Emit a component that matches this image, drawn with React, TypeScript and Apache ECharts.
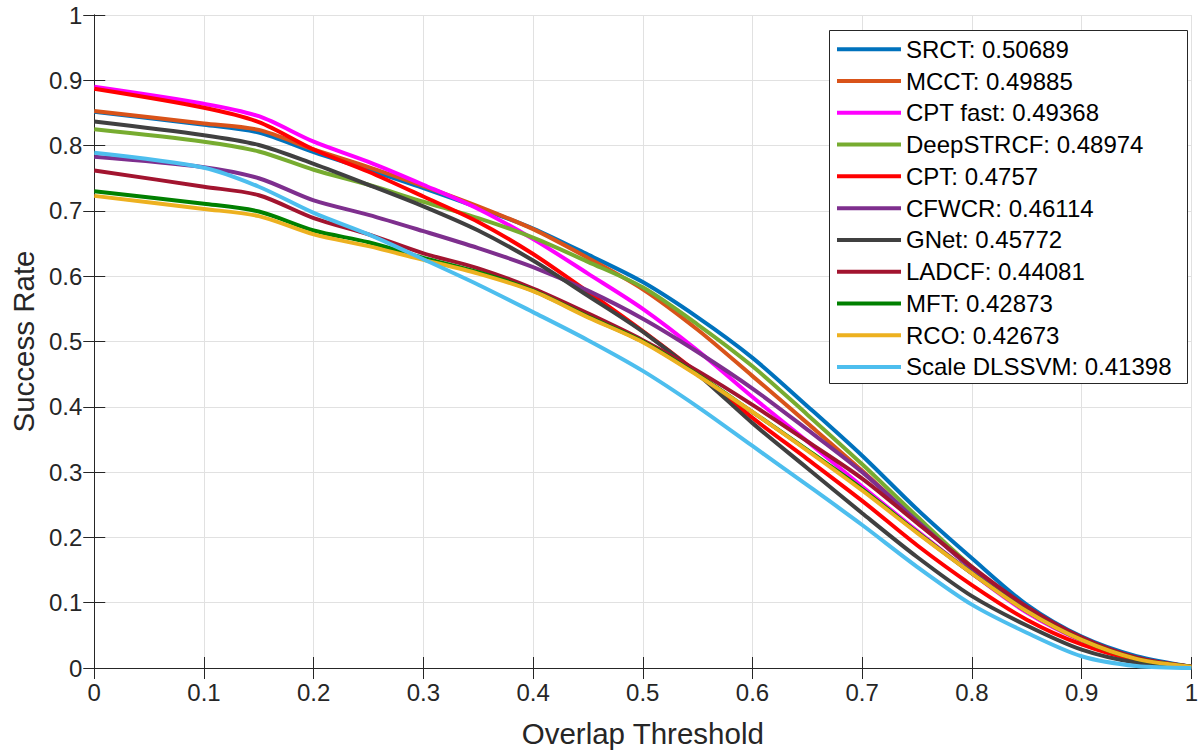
import React, { useEffect, useRef } from "react";
import * as echarts from "echarts";

const thresholds = [0, 0.1, 0.15, 0.2, 0.25, 0.3, 0.35, 0.4, 0.45, 0.5, 0.55, 0.6, 0.65, 0.7, 0.75, 0.8, 0.85, 0.9, 0.95, 1];

const srct = [0.852, 0.832, 0.820, 0.790, 0.763, 0.735, 0.705, 0.673, 0.633, 0.591, 0.537, 0.475, 0.401, 0.325, 0.243, 0.168, 0.097, 0.048, 0.018, 0.002];
const mcct = [0.853, 0.834, 0.824, 0.794, 0.767, 0.738, 0.707, 0.672, 0.628, 0.580, 0.518, 0.447, 0.375, 0.302, 0.225, 0.152, 0.087, 0.045, 0.015, 0.002];
const cptFast = [0.890, 0.864, 0.845, 0.806, 0.775, 0.740, 0.703, 0.657, 0.604, 0.550, 0.486, 0.415, 0.347, 0.278, 0.210, 0.145, 0.085, 0.042, 0.014, 0.002];
const deepStrcf = [0.825, 0.806, 0.791, 0.763, 0.740, 0.714, 0.689, 0.659, 0.622, 0.583, 0.526, 0.462, 0.388, 0.312, 0.232, 0.155, 0.089, 0.045, 0.015, 0.002];
const cpt = [0.887, 0.858, 0.836, 0.794, 0.760, 0.722, 0.683, 0.634, 0.576, 0.516, 0.452, 0.383, 0.320, 0.256, 0.188, 0.127, 0.074, 0.036, 0.012, 0.002];
const cfwcr = [0.783, 0.767, 0.750, 0.716, 0.694, 0.669, 0.643, 0.614, 0.578, 0.535, 0.484, 0.428, 0.365, 0.300, 0.225, 0.152, 0.088, 0.045, 0.015, 0.002];
const gnet = [0.837, 0.816, 0.801, 0.772, 0.740, 0.707, 0.670, 0.624, 0.570, 0.515, 0.450, 0.375, 0.306, 0.237, 0.170, 0.110, 0.065, 0.028, 0.008, 0.001];
const ladcf = [0.762, 0.737, 0.724, 0.689, 0.664, 0.635, 0.612, 0.581, 0.543, 0.502, 0.455, 0.403, 0.347, 0.290, 0.222, 0.155, 0.094, 0.047, 0.016, 0.002];
const mft = [0.730, 0.711, 0.699, 0.670, 0.652, 0.628, 0.606, 0.578, 0.538, 0.500, 0.449, 0.392, 0.334, 0.274, 0.208, 0.145, 0.087, 0.043, 0.014, 0.002];
const rco = [0.723, 0.703, 0.692, 0.664, 0.646, 0.625, 0.604, 0.577, 0.537, 0.499, 0.448, 0.392, 0.333, 0.272, 0.207, 0.145, 0.087, 0.043, 0.014, 0.002];
const scaleDlssvm = [0.789, 0.766, 0.737, 0.697, 0.664, 0.626, 0.587, 0.545, 0.502, 0.455, 0.400, 0.340, 0.280, 0.219, 0.155, 0.097, 0.054, 0.018, 0.003, 0.0];

const trackerNames = [
  "SRCT: 0.50689",
  "MCCT: 0.49885",
  "CPT fast: 0.49368",
  "DeepSTRCF: 0.48974",
  "CPT: 0.4757",
  "CFWCR: 0.46114",
  "GNet: 0.45772",
  "LADCF: 0.44081",
  "MFT: 0.42873",
  "RCO: 0.42673",
  "Scale DLSSVM: 0.41398",
];
const trackerValues = [srct, mcct, cptFast, deepStrcf, cpt, cfwcr, gnet, ladcf, mft, rco, scaleDlssvm];
const trackerColors = [
  "#0072BD", "#D95319", "#FF00FF", "#77AC30", "#FF0000", "#7E2F8E",
  "#404040", "#A2142F", "#008000", "#EDB120", "#4DBEEE",
];

const FONT = "'Liberation Sans', Arial, Helvetica, sans-serif";
const INK = "#262626";

export default function App() {
  const ref = useRef<HTMLDivElement>(null);
  useEffect(() => {
    if (!ref.current) return;
    const chart = echarts.init(ref.current, null, { renderer: "svg" });
    const tickStyle = { show: true, inside: true, length: 11, lineStyle: { color: INK, width: 1 } };
    const axisLine = { show: true, lineStyle: { color: INK, width: 1 } };
    chart.setOption({
      animation: false,
      backgroundColor: "#fff",
      textStyle: { fontFamily: FONT },
      grid: { left: 92, right: 5, top: 15, bottom: 85, containLabel: false },
      xAxis: [
        {
          type: "value", min: 0, max: 1, interval: 0.1, position: "bottom",
          name: "Overlap Threshold", nameLocation: "middle", nameGap: 50,
          nameTextStyle: { fontSize: 29.5, color: INK, fontFamily: FONT },
          axisLine, axisTick: tickStyle,
          axisLabel: { fontSize: 24, color: INK, margin: 12, fontFamily: FONT },
          splitLine: { show: true, lineStyle: { color: "#e1e1e1", width: 1 } },
        },
        {
          type: "value", min: 0, max: 1, interval: 0.1, position: "top",
          axisLine, axisTick: tickStyle, axisLabel: { show: false }, splitLine: { show: false },
        },
      ],
      yAxis: [
        {
          type: "value", min: 0, max: 1, interval: 0.1, position: "left",
          name: "Success Rate", nameLocation: "middle", nameGap: 55,
          nameTextStyle: { fontSize: 29.5, color: INK, fontFamily: FONT },
          axisLine, axisTick: tickStyle,
          axisLabel: { fontSize: 24, color: INK, margin: 12, fontFamily: FONT },
          splitLine: { show: true, lineStyle: { color: "#e1e1e1", width: 1 } },
        },
        {
          type: "value", min: 0, max: 1, interval: 0.1, position: "right",
          axisLine, axisTick: tickStyle, axisLabel: { show: false }, splitLine: { show: false },
        },
      ],
      legend: {
        orient: "vertical",
        left: 837,
        top: 33.4,
        padding: 0,
        itemGap: 0,
        itemWidth: 64,
        itemHeight: 4,
        itemTextGap: 5,
        icon: "rect",
        textStyle: { fontSize: 24, lineHeight: 31.77, color: "#000", fontFamily: FONT },
        data: trackerNames,
      },
      graphic: [
        {
          type: "rect",
          z: 3,
          shape: { x: 829.5, y: 30.5, width: 358, height: 353 },
          style: { fill: "#fff", stroke: INK, lineWidth: 1 },
        },
      ],
      series: trackerNames.map((name, i) => ({
        name,
        type: "line",
        xAxisIndex: 0,
        yAxisIndex: 0,
        data: thresholds.map((t, j) => [t, trackerValues[i][j]]),
        smooth: 0.3,
        showSymbol: false,
        symbol: "none",
        color: trackerColors[i],
        lineStyle: { color: trackerColors[i], width: 4 },
      })),
    });
    return () => chart.dispose();
  }, []);
  return (
    <div
      ref={ref}
      style={{ position: "fixed", left: 0, top: 0, width: 1201, height: 753, background: "#fff" }}
    />
  );
}
